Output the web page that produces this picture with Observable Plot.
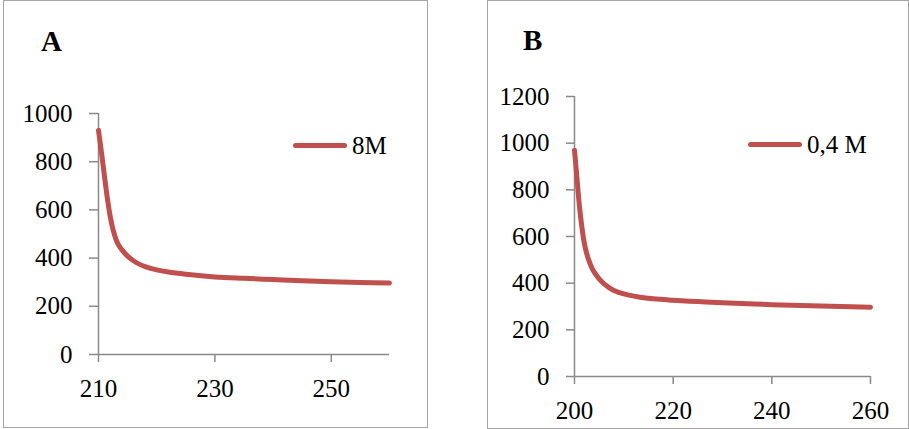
<!DOCTYPE html>
<html>
<head>
<meta charset="utf-8">
<script src="https://cdn.jsdelivr.net/npm/d3@7"></script>
<script src="https://cdn.jsdelivr.net/npm/@observablehq/plot@0.6"></script>
<style>
  html, body { margin: 0; padding: 0; background: #fff; }
  #page { position: relative; width: 909px; height: 429px; overflow: hidden; background: #fff; font-family: "Liberation Serif", serif; }
  .box { position: absolute; border: 1px solid #a6a6a6; box-sizing: border-box; }
  .plot { position: absolute; top: 0; }
  .panel-label { position: absolute; font-family: "Liberation Serif", serif; font-weight: bold; font-size: 29px; line-height: 1; color: #000; }
  .legend { position: absolute; display: flex; align-items: center; font-family: "Liberation Serif", serif; font-size: 25px; color: #000; line-height: 1; }
  .legend .swatch { width: 54px; height: 5px; border-radius: 3px; background: #c0504d; margin-right: 5px; }
</style>
</head>
<body>
<div id="page">
  <div class="box" style="left:3px; top:0px; width:425px; height:428px;"></div>
  <div class="box" style="left:487px; top:0px; width:422px; height:429px;"></div>
  <div id="plotA" class="plot" style="left:0px;"></div>
  <div id="plotB" class="plot" style="left:460px;"></div>
  <div class="panel-label" style="left:41px; top:27px;">A</div>
  <div class="panel-label" style="left:523px; top:26px;">B</div>
  <div class="legend" style="left:293px; top:133px;"><div class="swatch"></div><span id="legA"></span></div>
  <div class="legend" style="left:748px; top:132px;"><div class="swatch"></div><span id="legB"></span></div>
</div>
<script>
// Panel A (8M)
const seriesA = "8M";
const xA = [210, 210.5, 211, 211.5, 212, 212.5, 213, 213.5, 214, 215, 216, 217, 218, 220, 222, 225, 230, 235, 240, 245, 250, 255, 260];
const yA = [930, 840, 745, 652, 575, 518, 478, 452, 435, 408, 389, 375, 365, 351, 342, 333, 322, 316, 311, 306, 302, 299, 297];
const ticksXA = [210, 230, 250];
const ticksYA = [0, 200, 400, 600, 800, 1000];

// Panel B (0,4 M)
const seriesB = "0,4 M";
const xB = [200, 200.5, 201, 201.5, 202, 202.5, 203, 203.5, 204, 205, 206, 207, 208, 210, 213, 216, 220, 225, 230, 240, 250, 260];
const yB = [970, 850, 730, 640, 570, 525, 492, 466, 447, 418, 397, 381, 369, 354, 341, 333, 327, 321, 316, 308, 302, 297];
const ticksXB = [200, 220, 240, 260];
const ticksYB = [0, 200, 400, 600, 800, 1000, 1200];

const lineColor = "#c0504d";
const axisGrey = "#8a8a8a";
const font = "'Liberation Serif', serif";

function panel(xs, ys, xDomain, yDomain, xTicks, yTicks, dims) {
  const data = xs.map((x, i) => ({x, y: ys[i]}));
  return Plot.plot({
    width: dims.width,
    height: dims.height,
    marginLeft: dims.ml,
    marginRight: dims.mr,
    marginTop: dims.mt,
    marginBottom: dims.mb,
    style: {fontFamily: font, fontSize: "25px", background: "transparent", color: "#000", overflow: "visible"},
    x: {domain: xDomain, ticks: xTicks, label: null},
    y: {domain: yDomain, ticks: yTicks, label: null},
    marks: [
      Plot.ruleX([xDomain[0]], {stroke: axisGrey, strokeWidth: 1.5}),
      Plot.ruleY([yDomain[0]], {stroke: axisGrey, strokeWidth: 1.5}),
      Plot.axisY({ticks: yTicks, label: null, tickSize: dims.tsy, tickPadding: 17, stroke: axisGrey, strokeWidth: 1.5, fill: "#000", fontSize: 25, tickFormat: d => String(d)}),
      Plot.axisX({ticks: xTicks, label: null, tickSize: 8, tickPadding: 17, stroke: axisGrey, strokeWidth: 1.5, fill: "#000", fontSize: 25, tickFormat: d => String(d)}),
      Plot.line(data, {x: "x", y: "y", stroke: lineColor, strokeWidth: 5, curve: "catmull-rom", strokeLinecap: "round", strokeLinejoin: "round"})
    ]
  });
}

document.getElementById("plotA").appendChild(
  panel(xA, yA, [210, 260], [0, 1000], ticksXA, ticksYA, {width: 440, height: 429, ml: 98, mr: 51, mt: 113, mb: 75, tsy: 9})
);
document.getElementById("plotB").appendChild(
  panel(xB, yB, [200, 260], [0, 1200], ticksXB, ticksYB, {width: 449, height: 429, ml: 114, mr: 39, mt: 96, mb: 53, tsy: 8})
);
document.getElementById("legA").textContent = seriesA;
document.getElementById("legB").textContent = seriesB;
</script>
</body>
</html>
